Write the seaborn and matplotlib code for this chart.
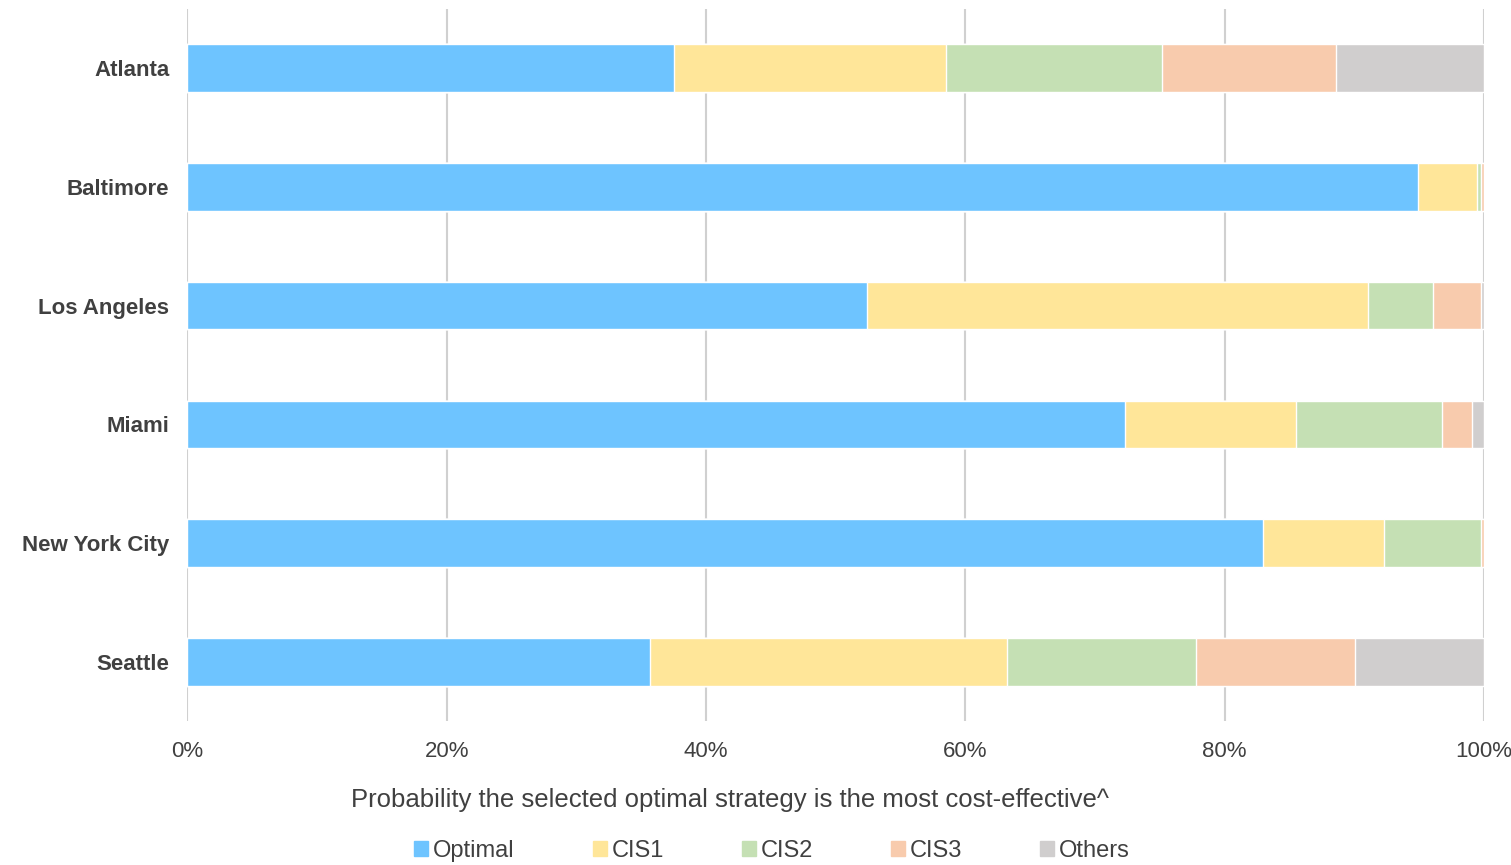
import numpy as np
import pandas as pd
import matplotlib
matplotlib.use("Agg")
import matplotlib.pyplot as plt
import seaborn as sns

cities = ["Atlanta", "Baltimore", "Los Angeles", "Miami", "New York City", "Seattle"]
optimal = [37.5, 94.9, 52.4, 72.3, 83.0, 35.7]
cis1 = [21.0, 4.6, 38.7, 13.2, 9.3, 27.5]
cis2 = [16.7, 0.3, 5.0, 11.3, 7.5, 14.6]
cis3 = [13.4, 0.2, 3.7, 2.3, 0.2, 12.3]
others = [11.4, 0.0, 0.2, 0.9, 0.0, 9.9]

series = ["Optimal", "CIS1", "CIS2", "CIS3", "Others"]
colors = ["#6EC4FF", "#FFE699", "#C5E0B4", "#F8CBAD", "#D0CECE"]

sns.set_style("white")
plt.rcParams['font.family'] = ['Liberation Sans', 'DejaVu Sans']

vals = np.array([optimal, cis1, cis2, cis3, others])
cum = vals.cumsum(axis=0)

fig, ax = plt.subplots(figsize=(15.11, 8.65), dpi=100)
for i in range(len(series) - 1, -1, -1):
    df = pd.DataFrame({"city": cities, "v": cum[i]})
    sns.barplot(data=df, x="v", y="city", color=colors[i], ax=ax,
                width=0.4, saturation=1, orient="h")

ax.set_xlim(0, 100)
ax.set_xticks(range(0, 101, 20))
ax.set_xticklabels([f"{t}%" for t in range(0, 101, 20)], fontsize=16, color="#404040")
ax.xaxis.grid(True, color="#D0D0D0", linewidth=1.5)
ax.set_axisbelow(True)
for s in ax.spines.values():
    s.set_visible(False)
ax.tick_params(axis="y", length=0, pad=13)
ax.tick_params(axis="x", length=0, pad=14)
for lab in ax.get_yticklabels():
    lab.set_fontsize(16)
    lab.set_fontweight("bold")
    lab.set_color("#404040")
ax.set_ylabel("")
ax.set_xlabel("")
fig.text(730 / 1511, 1 - 800 / 865, "Probability the selected optimal strategy is the most cost-effective^",
         fontsize=18.5, color="#404040", ha="center", va="center")

handles = [plt.Rectangle((0, 0), 1, 1, color=c) for c in colors]
fig.legend(handles, series, loc="center", bbox_to_anchor=(772 / 1511, 1 - 851 / 865), ncol=5,
           frameon=False, fontsize=17, handlelength=0.6, handleheight=0.6,
           handletextpad=0.2, columnspacing=3.3, labelcolor="#404040",
           borderpad=0)

plt.subplots_adjust(left=0.124, right=0.982, top=0.99, bottom=0.166)
fig.savefig("out.png")
